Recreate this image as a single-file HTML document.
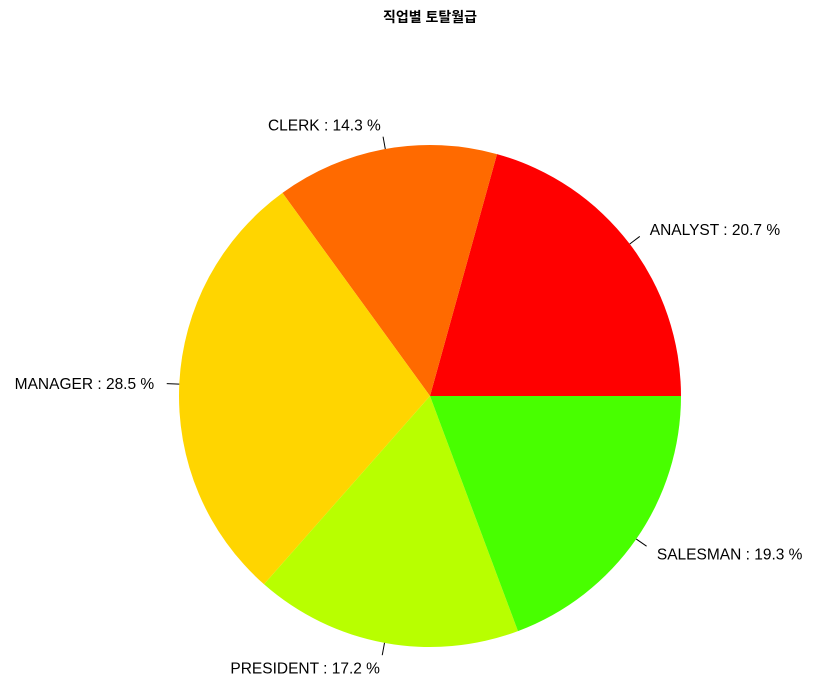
<!DOCTYPE html>
<html><head><meta charset="utf-8"><style>
body{margin:0;background:#fff}
svg text{font-family:"Liberation Sans","Noto Sans CJK KR",sans-serif}
</style></head><body>
<svg id="c" width="818" height="694">
<text x="430" y="22" text-anchor="middle" font-size="14" font-weight="bold">직업별 토탈월급</text>
</svg>
<script>
const categories=["ANALYST","CLERK","MANAGER","PRESIDENT","SALESMAN"];
const percents=[20.7,14.3,28.5,17.2,19.3];
const colors=["#FF0000","#FF6A00","#FFD500","#B8FF00","#48FF00"];
const svg=document.getElementById('c');
const NS="http://www.w3.org/2000/svg";
const cx=430,cy=396,r=251;
const total=percents.reduce((a,b)=>a+b,0);
let a0=0;
percents.forEach((p,i)=>{
  const a1=a0+p/total*2*Math.PI;
  const x0=cx+r*Math.cos(a0),y0=cy-r*Math.sin(a0),x1=cx+r*Math.cos(a1),y1=cy-r*Math.sin(a1);
  const large=(a1-a0)>Math.PI?1:0;
  const path=document.createElementNS(NS,'path');
  path.setAttribute('d',`M${cx},${cy}L${x0},${y0}A${r},${r} 0 ${large} 0 ${x1},${y1}Z`);
  path.setAttribute('fill',colors[i]);
  
  
  svg.appendChild(path);
  const m=(a0+a1)/2,c=Math.cos(m),s=Math.sin(m);
  const ln=document.createElementNS(NS,'line');
  ln.setAttribute('x1',cx+r*c);ln.setAttribute('y1',cy-r*s);
  ln.setAttribute('x2',cx+1.05*r*c);ln.setAttribute('y2',cy-1.05*r*s);
  ln.setAttribute('stroke','#000');
  
  
  svg.appendChild(ln);
  const t=document.createElementNS(NS,'text');
  t.setAttribute('x',cx+1.1*r*c);t.setAttribute('y',cy-1.1*r*s+6);
  t.setAttribute('font-size','15.5');
  t.setAttribute('text-anchor',c>=0?'start':'end');
  t.textContent=categories[i]+' : '+p+' %';
  
  
  svg.appendChild(t);
  a0=a1;
});
</script>
</body></html>
